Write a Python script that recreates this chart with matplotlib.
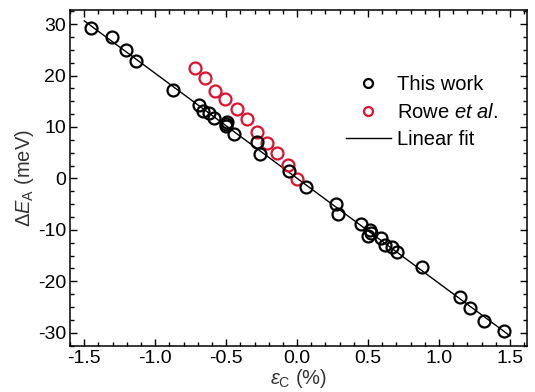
# Recreación de la gráfica de desplazamiento de energía frente a deformación
import numpy as np
import matplotlib
matplotlib.use("Agg")
import matplotlib.pyplot as plt
from matplotlib.ticker import MultipleLocator

# Datos
this_work_x = [-1.455, -1.305, -1.206, -1.136, -0.875, -0.688, -0.66, -0.62, -0.585,
               -0.495, -0.50, -0.502, -0.444, -0.284, -0.26, -0.058, 0.065,
               0.272, 0.291, 0.451, 0.514, 0.502, 0.52, 0.589, 0.62, 0.667, 0.702,
               0.882, 1.148, 1.218, 1.319, 1.458]
this_work_y = [29.2, 27.4, 24.9, 22.9, 17.1, 14.2, 13.1, 12.7, 11.8,
               10.9, 10.5, 10.1, 8.7, 7.05, 4.7, 1.4, -1.6,
               -5.05, -7.0, -8.8, -10.1, -11.1, -10.6, -11.5, -13.0, -13.3, -14.3,
               -17.2, -23.0, -25.1, -27.7, -29.7]

rowe_x = [-0.718, -0.648, -0.577, -0.507, -0.425, -0.354, -0.28, -0.209, -0.139, -0.061, -0.002]
rowe_y = [21.5, 19.5, 16.95, 15.5, 13.5, 11.5, 9.0, 6.9, 4.9, 2.7, -0.06]

fit_range = [-1.5, 1.5]

plt.rcParams['font.family'] = ['Liberation Sans', 'DejaVu Sans']
plt.rcParams['mathtext.fontset'] = 'custom'
plt.rcParams['mathtext.rm'] = 'Liberation Sans'
plt.rcParams['mathtext.it'] = 'Liberation Sans:italic'
plt.rcParams['mathtext.bf'] = 'Liberation Sans:bold'
plt.rcParams['axes.unicode_minus'] = False

fig = plt.figure(figsize=(5.35, 3.92), dpi=100)
ax = fig.add_axes([0.131, 0.117, 0.854, 0.857])

# Ajuste lineal de mis datos
pend, ord0 = np.polyfit(this_work_x, this_work_y, 1)
xf = np.array(fit_range)
ax.plot(xf, pend * xf + ord0, color='black', lw=1.0, label='Linear fit', zorder=1)

ax.plot(this_work_x, this_work_y, 'o', ms=8.6, mfc='none', mec='black', mew=1.6,
        label='This work', zorder=3)
ax.plot(rowe_x, rowe_y, 'o', ms=8.6, mfc='none', mec='#e0102f', mew=1.6,
        label='Rowe $\\mathit{et\\ al.}$', zorder=2)

ax.set_xlim(-1.6, 1.62)
ax.set_ylim(-32.6, 32.7)
ax.xaxis.set_major_locator(MultipleLocator(0.5))
ax.xaxis.set_minor_locator(MultipleLocator(0.1))
ax.yaxis.set_major_locator(MultipleLocator(10))
ax.yaxis.set_minor_locator(MultipleLocator(2.5))
ax.tick_params(which='both', direction='in', top=True, right=True, labelsize=14,
               width=1.0, pad=3)
ax.tick_params(which='major', length=5)
ax.tick_params(which='minor', length=3)
for s in ax.spines.values():
    s.set_linewidth(1.1)

ax.set_xlabel('$\\mathit{ε}_\\mathrm{C}$ (%)', fontsize=14.5, labelpad=0, color='#333333')
ax.set_ylabel('$\\Delta\\mathit{E}_\\mathrm{A}$ (meV)', fontsize=14.5, labelpad=1, color='#333333')

h, l = ax.get_legend_handles_labels()
orden = [1, 2, 0]
ax.legend([h[i] for i in orden], [l[i] for i in orden], frameon=False, fontsize=14.5,
          markerscale=0.75, loc='upper right', bbox_to_anchor=(0.975, 0.86),
          handlelength=2.2, handletextpad=0.3, labelspacing=0.42)

plt.savefig('out.png', dpi=100)
